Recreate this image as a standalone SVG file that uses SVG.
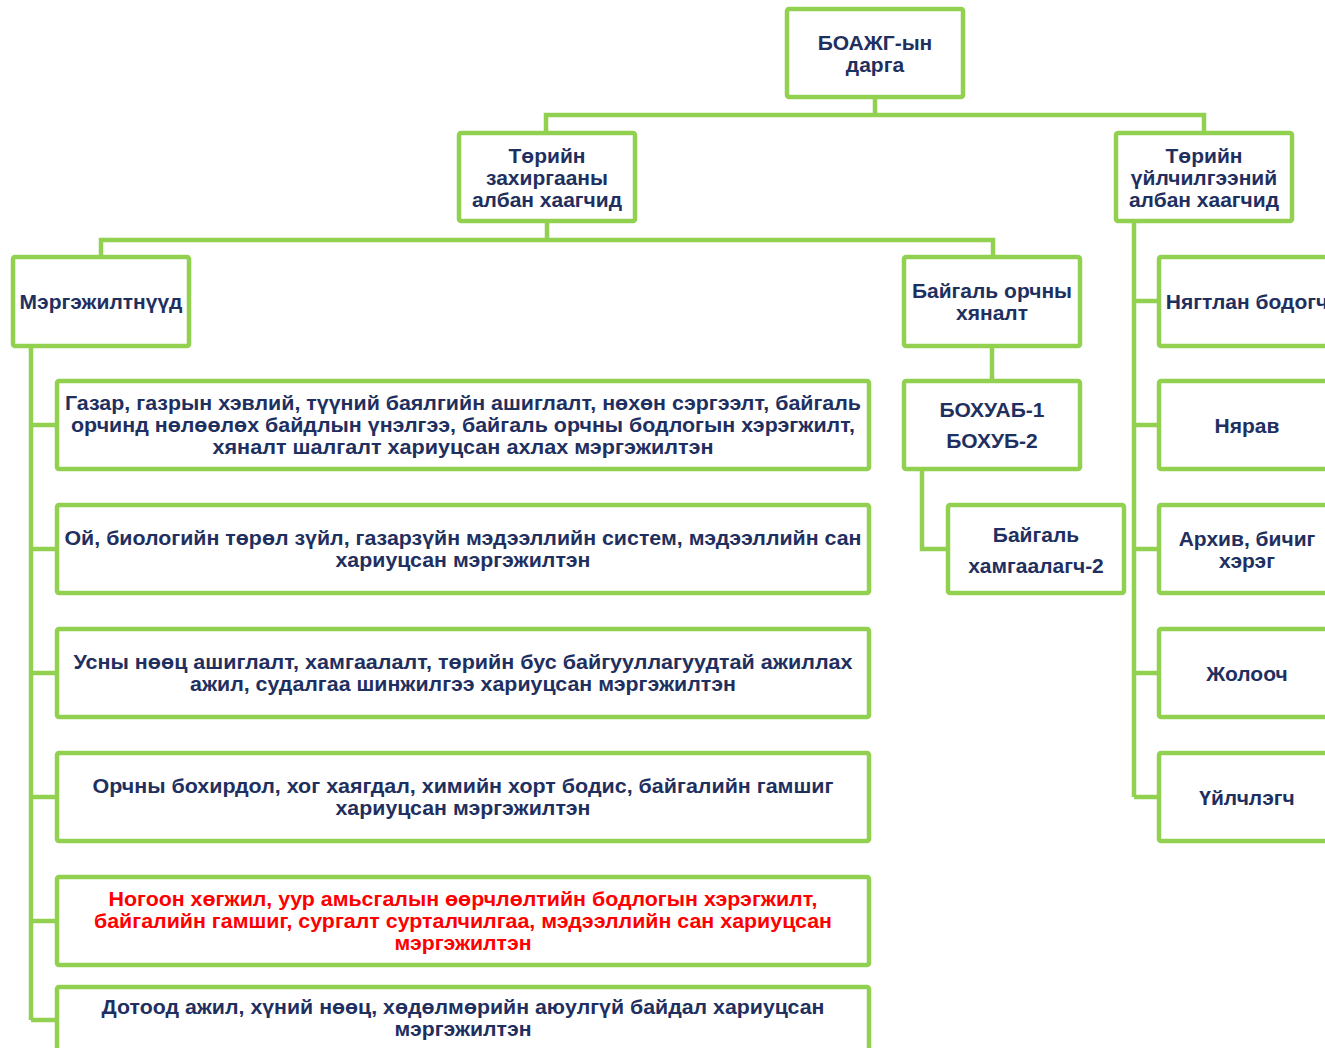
<svg xmlns="http://www.w3.org/2000/svg" width="1325" height="1048" viewBox="0 0 1325 1048">
<style>
.box{fill:#fff;stroke:#92D050;stroke-width:4.5}
.con{fill:none;stroke:#92D050;stroke-width:4.5;stroke-linejoin:miter}
text{font-family:"Liberation Sans",Arial,sans-serif;font-weight:bold;font-size:21px;fill:#1F3060;text-anchor:middle;dominant-baseline:central}
text.w{font-size:20px}
text.red{fill:#FF0000}
</style>
<rect width="1325" height="1048" fill="#fff"/>
<g id="connectors">
<path class="con" d="M875 97V115M546 133V115H1204V133"/>
<path class="con" d="M547 221V240M101 257V240H993V257"/>
<path class="con" d="M31 346V1020M31 425H57M31 549H57M31 673H57M31 797H57M31 921H57M31 1020H57"/>
<path class="con" d="M992 346V381M922 469V549H948"/>
<path class="con" d="M1134 221V797M1134 301H1159M1134 425H1159M1134 549H1159M1134 673H1159M1134 797H1159"/>
</g>
<g id="n-top"><rect class="box" x="787" y="9" width="176" height="88" rx="2"/><text x="875" y="42">БОАЖГ-ын</text><text x="875" y="64">дарга</text></g>
<g id="n-admin"><rect class="box" x="459" y="133" width="176" height="88" rx="2"/><text x="547" y="155">Төрийн</text><text x="547" y="177">захиргааны</text><text x="547" y="199">албан хаагчид</text></g>
<g id="n-service"><rect class="box" x="1116" y="133" width="176" height="88" rx="2"/><text x="1204" y="155">Төрийн</text><text x="1204" y="177">үйлчилгээний</text><text x="1204" y="199">албан хаагчид</text></g>
<g id="n-specialists"><rect class="box" x="13" y="257" width="176" height="89" rx="2"/><text x="101" y="301">Мэргэжилтнүүд</text></g>
<g id="n-control"><rect class="box" x="904" y="257" width="176" height="89" rx="2"/><text x="992" y="290">Байгаль орчны</text><text x="992" y="312">хяналт</text></g>
<g id="n-bokhuab"><rect class="box" x="904" y="381" width="176" height="88" rx="2"/><text x="992" y="409">БОХУАБ-1</text><text x="992" y="440">БОХУБ-2</text></g>
<g id="n-ranger"><rect class="box" x="948" y="505" width="176" height="88" rx="2"/><text x="1036" y="534">Байгаль</text><text x="1036" y="565">хамгаалагч-2</text></g>
<g id="n-s1"><rect class="box" x="57" y="381" width="812" height="88" rx="2"/>
<text class="w" x="463" y="403" textLength="796" lengthAdjust="spacingAndGlyphs">Газар, газрын хэвлий, түүний баялгийн ашиглалт, нөхөн сэргээлт, байгаль</text>
<text class="w" x="463" y="425" textLength="784" lengthAdjust="spacingAndGlyphs">орчинд нөлөөлөх байдлын үнэлгээ, байгаль орчны бодлогын хэрэгжилт,</text>
<text class="w" x="463" y="447" textLength="501" lengthAdjust="spacingAndGlyphs">хяналт шалгалт  хариуцсан ахлах мэргэжилтэн</text></g>
<g id="n-s2"><rect class="box" x="57" y="505" width="812" height="88" rx="2"/>
<text class="w" x="463" y="538" textLength="797" lengthAdjust="spacingAndGlyphs">Ой, биологийн төрөл зүйл, газарзүйн мэдээллийн систем, мэдээллийн сан</text>
<text class="w" x="463" y="560" textLength="255" lengthAdjust="spacingAndGlyphs">хариуцсан мэргэжилтэн</text></g>
<g id="n-s3"><rect class="box" x="57" y="629" width="812" height="88" rx="2"/>
<text class="w" x="463" y="662" textLength="779" lengthAdjust="spacingAndGlyphs">Усны нөөц ашиглалт, хамгаалалт, төрийн бус байгууллагуудтай ажиллах</text>
<text class="w" x="463" y="684" textLength="546" lengthAdjust="spacingAndGlyphs">ажил, судалгаа шинжилгээ хариуцсан мэргэжилтэн</text></g>
<g id="n-s4"><rect class="box" x="57" y="753" width="812" height="88" rx="2"/>
<text class="w" x="463" y="786" textLength="741" lengthAdjust="spacingAndGlyphs">Орчны бохирдол, хог хаягдал, химийн хорт бодис, байгалийн гамшиг</text>
<text class="w" x="463" y="808" textLength="255" lengthAdjust="spacingAndGlyphs">хариуцсан мэргэжилтэн</text></g>
<g id="n-s5"><rect class="box" x="57" y="877" width="812" height="88" rx="2"/>
<text class="w red" x="463" y="899" textLength="709" lengthAdjust="spacingAndGlyphs">Ногоон хөгжил, уур амьсгалын өөрчлөлтийн бодлогын хэрэгжилт,</text>
<text class="w red" x="463" y="921" textLength="738" lengthAdjust="spacingAndGlyphs">байгалийн гамшиг, сургалт сурталчилгаа, мэдээллийн сан хариуцсан</text>
<text class="w red" x="463" y="943" textLength="137" lengthAdjust="spacingAndGlyphs">мэргэжилтэн</text></g>
<g id="n-s6"><rect class="box" x="57" y="987" width="812" height="64" rx="2"/>
<text class="w" x="463" y="1007" textLength="723" lengthAdjust="spacingAndGlyphs">Дотоод ажил, хүний нөөц, хөдөлмөрийн аюулгүй байдал хариуцсан</text>
<text class="w" x="463" y="1029" textLength="137" lengthAdjust="spacingAndGlyphs">мэргэжилтэн</text></g>
<g id="n-accountant"><rect class="box" x="1159" y="257" width="176" height="89" rx="2"/><text x="1247" y="301">Нягтлан бодогч</text></g>
<g id="n-storekeeper"><rect class="box" x="1159" y="381" width="176" height="88" rx="2"/><text x="1247" y="425">Нярав</text></g>
<g id="n-archive"><rect class="box" x="1159" y="505" width="176" height="88" rx="2"/><text x="1247" y="538">Архив, бичиг</text><text x="1247" y="560">хэрэг</text></g>
<g id="n-driver"><rect class="box" x="1159" y="629" width="176" height="88" rx="2"/><text x="1247" y="673">Жолооч</text></g>
<g id="n-cleaner"><rect class="box" x="1159" y="753" width="176" height="88" rx="2"/><text x="1247" y="797">Үйлчлэгч</text></g>
</svg>
